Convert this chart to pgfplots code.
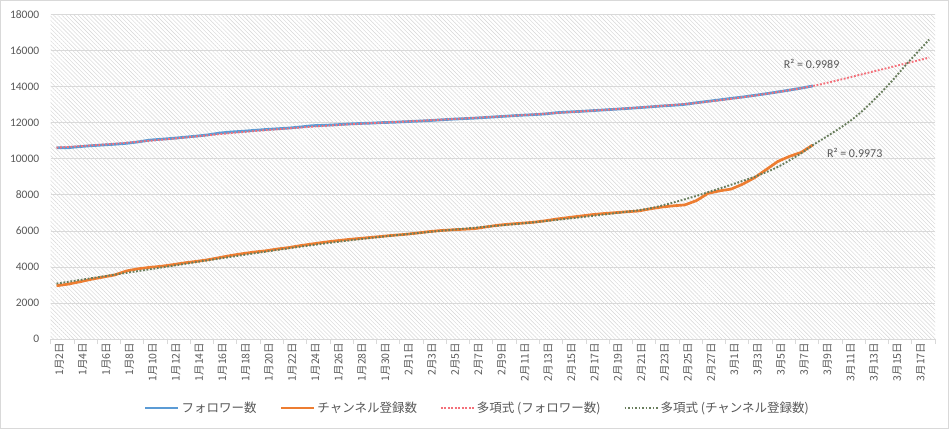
\documentclass[border=0pt]{standalone}
\usepackage{fontspec}
\setmainfont{Carlito}
\newfontfamily\jp{Noto Sans CJK JP}
\usepackage{pgfplots}
\pgfplotsset{compat=1.18}
\usepackage{pgfplotstable}
\usetikzlibrary{patterns.meta}

\definecolor{blueS}{HTML}{5B9BD5}
\definecolor{orangeS}{HTML}{ED7D31}
\definecolor{redT}{HTML}{F4707A}
\definecolor{greenT}{HTML}{687D5C}
\definecolor{gridc}{HTML}{D9D9D9}
\definecolor{txt}{HTML}{595959}
\definecolor{hatch}{HTML}{D6D6D6}

% day index (0 = 1月2日), followers, channel subscribers
\pgfplotstableread{
x fol ch
0 10600 2960
1 10610 3050
2 10670 3180
3 10720 3320
4 10760 3440
5 10800 3560
6 10850 3780
7 10930 3900
8 11030 3980
9 11080 4040
10 11130 4130
11 11190 4230
12 11250 4310
13 11320 4400
14 11420 4520
15 11480 4640
16 11520 4740
17 11570 4830
18 11620 4900
19 11660 5000
20 11700 5080
21 11760 5190
22 11830 5280
23 11850 5370
24 11880 5450
25 11920 5520
26 11950 5580
27 11970 5640
28 12000 5700
29 12020 5760
30 12050 5810
31 12080 5880
32 12110 5960
33 12150 6020
34 12190 6060
35 12220 6090
36 12250 6130
37 12290 6230
38 12330 6320
39 12370 6380
40 12410 6430
41 12440 6480
42 12480 6560
43 12550 6660
44 12590 6740
45 12620 6820
46 12660 6900
47 12700 6960
48 12740 7010
49 12780 7060
50 12825 7100
51 12870 7220
52 12920 7320
53 12960 7390
54 13010 7440
55 13100 7680
56 13180 8080
57 13260 8220
58 13345 8320
59 13420 8600
60 13510 8950
61 13600 9400
62 13700 9850
63 13800 10130
64 13910 10350
65 14030 10760
}\data

% polynomial trend lines
\pgfplotstableread{
x y
0 10610
5 10830
10 11110
15 11420
20 11680
25 11900
30 12060
35 12230
40 12410
45 12620
50 12830
55 13090
60 13500
65 14030
70 14800
75 15600
}\trendfol

\pgfplotstableread{
x y
0 3080
4 3480
8 3870
12 4270
16 4660
20 5040
24 5380
28 5680
32 5940
36 6180
40 6410
44 6680
48 6980
51 7250
54 7750
57 8350
60 9000
62 9550
64 10300
65 10750
66 11150
67 11560
68 11990
69 12500
70 13100
71 13750
72 14450
73 15200
74 15900
75 16600
}\trendch

\begin{document}
\begin{tikzpicture}
\useasboundingbox (-50.7bp,-89.8bp) rectangle (898.3bp,339.2bp);
\fill[white] (-50.7bp,-89.8bp) rectangle (898.3bp,339.2bp);
\draw[gridc, line width=0.75bp] (-50.3bp,-89.4bp) rectangle (897.9bp,338.8bp);
\begin{axis}[
  at={(0bp,0bp)}, anchor=south west,
  scale only axis, width=884.3bp, height=324.9bp,
  xmin=-0.5, xmax=75.5, ymin=0, ymax=18000,
  axis x line*=bottom, axis y line*=left,
  x axis line style={draw=gridc, line width=0.75bp, -},
  y axis line style={draw=none},
  axis background/.style={pattern={Lines[angle=-45, distance=2.9bp, line width=0.45bp]}, pattern color=hatch},
  ytick={0,2000,...,18000}, scaled y ticks=false,
  ymajorgrids, major grid style={draw=gridc, line width=0.75bp},
  xtick={0,2,...,74},
  xticklabels={1月2日,1月4日,1月6日,1月8日,1月10日,1月12日,1月14日,1月16日,1月18日,1月20日,1月22日,1月24日,1月26日,1月28日,1月30日,2月1日,2月3日,2月5日,2月7日,2月9日,2月11日,2月13日,2月15日,2月17日,2月19日,2月21日,2月23日,2月25日,2月27日,3月1日,3月3日,3月5日,3月7日,3月9日,3月11日,3月13日,3月15日,3月17日},
  minor xtick={-0.5,1.5,...,75.5},
  major tick length=0pt, minor tick length=5bp, tick align=outside,
  every minor tick/.append style={draw=gridc, line width=0.75bp},
  x tick label style={rotate=90, anchor=east, font=\jp\fontsize{10.5bp}{12bp}\selectfont, text=txt, yshift=-3bp},
  y tick label style={font=\fontsize{11.5bp}{13bp}\selectfont, text=txt, xshift=-8bp},
  /pgf/number format/1000 sep={},
  /pgf/number format/assume math mode=true,
  legend style={at={(0.4826,-0.2118)}, anchor=center, draw=none, fill=none,
    font=\jp\fontsize{12.5bp}{14bp}\selectfont, text=txt,
    /tikz/every even column/.append style={column sep=21bp}},
  legend columns=4, legend cell align=left,
  legend image code/.code={\draw[#1] (0bp,0bp) -- (33bp,0bp);},
]
\addplot[blueS, line width=2.7bp, line join=round] table[x=x, y=fol] {\data};
\addlegendentry{フォロワー数}
\addplot[orangeS, line width=2.7bp, line join=round] table[x=x, y=ch] {\data};
\addlegendentry{チャンネル登録数}
\addplot[redT, line width=1.9bp, dash pattern=on 1.8bp off 1.7bp, smooth] table[x=x, y=y] {\trendfol};
\addlegendentry{多項式 (フォロワー数)}
\addplot[greenT, line width=1.9bp, dash pattern=on 1.8bp off 1.7bp, smooth] table[x=x, y=y] {\trendch};
\addlegendentry{多項式 (チャンネル登録数)}
\node[font=\fontsize{12bp}{14bp}\selectfont, text=txt] at (axis cs:64.9,15250) {R² = 0.9989};
\node[font=\fontsize{12bp}{14bp}\selectfont, text=txt] at (axis cs:68.6,10315) {R² = 0.9973};
\end{axis}
\end{tikzpicture}
\end{document}
